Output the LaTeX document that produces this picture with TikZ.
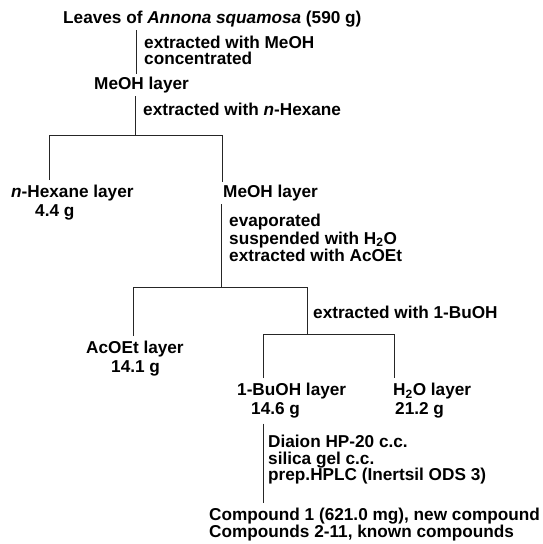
\documentclass[tikz,border=0pt]{standalone}
\usepackage{fontspec}
\newfontfamily\dfont{Liberation Sans}
\begin{document}
\begin{tikzpicture}[x=1pt,y=-1pt,
  dfnt/.style={font=\dfont\bfseries\fontsize{17.2}{#1}\selectfont},
  txt/.style={anchor=base west, inner xsep=0pt, inner ysep=3pt, text height=12.5pt, text depth=3.6pt, dfnt=20},
  blk/.style={anchor=north west, inner xsep=0pt, inner ysep=0pt, align=left, dfnt=#1},
  pair/.style={anchor=north west, inner xsep=0pt, inner ysep=5pt, align=left, dfnt=19},
  conn/.style={draw=black!85, line width=0.9pt}]
\useasboundingbox (0,0) rectangle (542,544);
% texts
\node[txt] (leaves) at (63,23.5) {Leaves of \textit{Annona squamosa} (590 g)};
\node[blk=16] (s1) at (144,36) {extracted with MeOH\\concentrated};
\node[txt] (meoh1) at (94,89.5) {MeOH layer};
\node[txt] (s2) at (143,115.5) {extracted with \textit{n}-Hexane};
\node[pair] (hex) at (11,180) {\textit{n}-Hexane layer\\\hspace*{24pt}4.4 g};
\node[txt] (meoh2) at (223,197.5) {MeOH layer};
\node[blk=17.5] (s3) at (229,214) {evaporated\\suspended with H\textsubscript{2}O\\extracted with AcOEt};
\node[txt] (s4) at (313,318.5) {extracted with 1-BuOH};
\node[pair] (acoet) at (86,336) {AcOEt layer\\\hspace*{25pt}14.1 g};
\node[pair] (buoh) at (237,378) {1-BuOH layer\\\hspace*{14pt}14.6 g};
\node[pair] (h2o) at (393,378) {H\textsubscript{2}O layer\\\hspace*{2pt}21.2 g};
\node[blk=16.5] (s5) at (268,435) {Diaion HP-20 c.c.\\silica gel c.c.\\prep.HPLC (Inertsil ODS 3)};
\node[blk=15, inner ysep=5pt] (cmp) at (209,503) {Compound 1 (621.0 mg), new compound\\Compounds 2-11, known compounds};
% junction coordinates
\coordinate (x1) at (136,0);
\coordinate (j1) at (135,135);
\coordinate (j1l) at (49,135);
\coordinate (j1r) at (222,135);
\coordinate (j2) at (221,287);
\coordinate (j2l) at (133,287);
\coordinate (j2r) at (307,287);
\coordinate (j3) at (307,334);
\coordinate (j3l) at (263,334);
\coordinate (j3r) at (394,334);
\coordinate (x5) at (263,0);
% connectors
\draw[conn] (leaves.south -| x1) -- (meoh1.north -| x1);
\draw[conn] (meoh1.south -| j1) -- (j1);
\draw[conn] (hex.north -| j1l) -- (j1l) -- (j1r) -- (meoh2.north -| j1r);
\draw[conn] (meoh2.south -| j2) -- (j2);
\draw[conn] (acoet.north -| j2l) -- (j2l) -- (j2r) -- (j3);
\draw[conn] (buoh.north -| j3l) -- (j3l) -- (j3r) -- (h2o.north -| j3r);
\draw[conn] (buoh.south -| x5) -- (cmp.north -| x5);
\end{tikzpicture}
\end{document}
